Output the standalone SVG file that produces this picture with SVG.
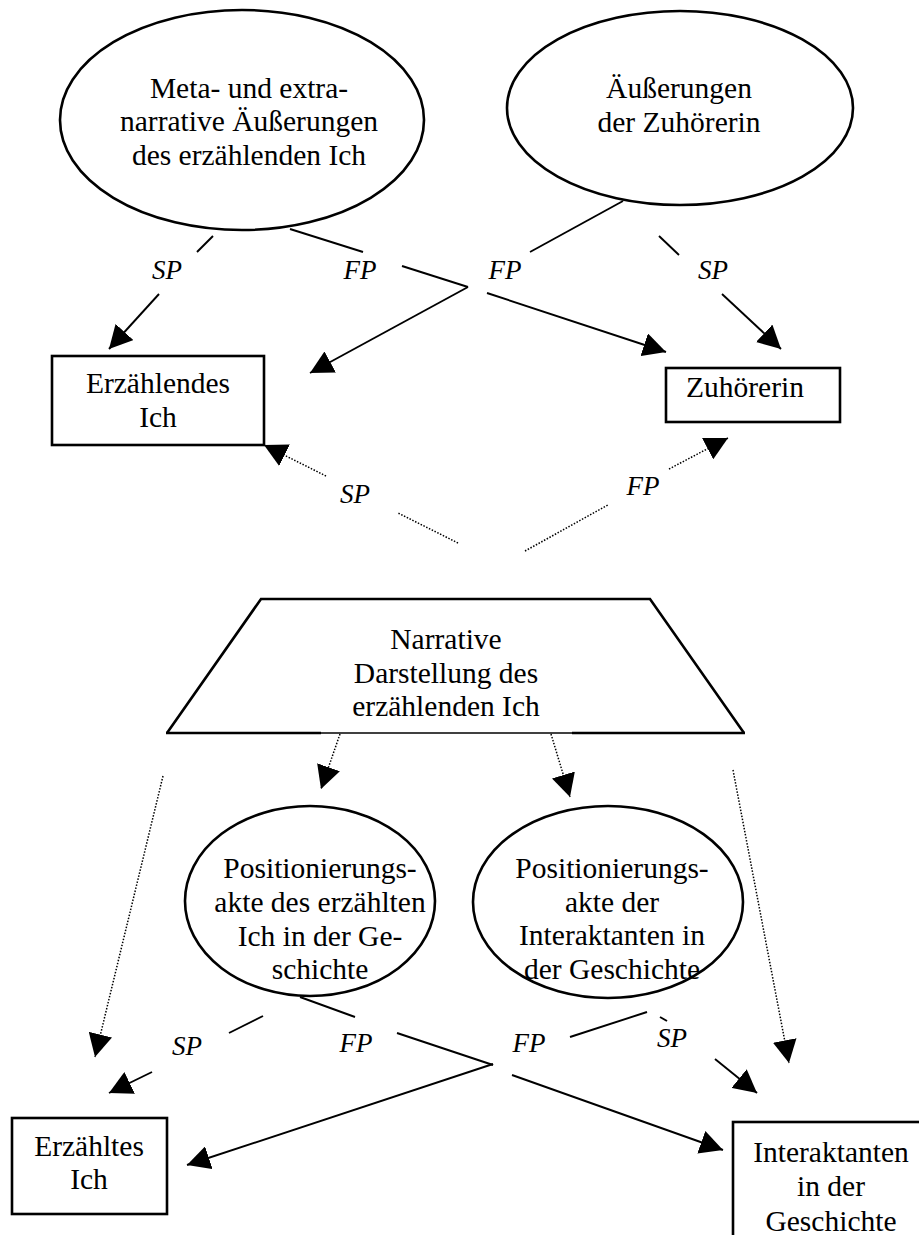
<svg xmlns="http://www.w3.org/2000/svg" width="919" height="1235" viewBox="0 0 919 1235">
<style>
  .shape { fill: #fff; stroke: #000; stroke-width: 2.6; }
  .t { font-family: "Liberation Serif", "Times New Roman", serif; font-size: 29.5px; fill: #000; text-anchor: middle; }
  .lbl { font-family: "Liberation Serif", "Times New Roman", serif; font-size: 27px; font-style: italic; fill: #000; text-anchor: middle; }
  .solid { stroke: #000; stroke-width: 1.9; fill: none; }
  .dot { stroke: #000; stroke-width: 1.5; fill: none; stroke-dasharray: 1.5 1.6; }
</style>
<defs>
  <marker id="arr" markerUnits="userSpaceOnUse" markerWidth="24" markerHeight="24" refX="23" refY="12" orient="auto">
    <path d="M0,0 L23,12 L0,24 z" fill="#000"/>
  </marker>
</defs>
<rect width="919" height="1235" fill="#fff"/>

<g id="connectors">
  <line class="solid" x1="213" y1="236" x2="197" y2="252"/>
  <line class="solid" x1="159" y1="294" x2="109" y2="349" marker-end="url(#arr)"/>
  <line class="solid" x1="290" y1="229" x2="363" y2="252"/>
  <line class="solid" x1="402" y1="266" x2="468" y2="287"/>
  <line class="solid" x1="487" y1="293" x2="666" y2="352" marker-end="url(#arr)"/>
  <line class="solid" x1="623" y1="201" x2="530" y2="252"/>
  <line class="solid" x1="468" y1="287" x2="310" y2="373" marker-end="url(#arr)"/>
  <line class="solid" x1="659" y1="236" x2="679" y2="255"/>
  <line class="solid" x1="722" y1="294" x2="781" y2="349" marker-end="url(#arr)"/>
  <line class="dot" x1="458" y1="543" x2="398" y2="513"/>
  <line class="dot" x1="326" y1="476" x2="264" y2="445" marker-end="url(#arr)"/>
  <line class="dot" x1="525" y1="551" x2="608" y2="505"/>
  <line class="dot" x1="669" y1="469" x2="728" y2="438" marker-end="url(#arr)"/>
  <line class="dot" x1="340" y1="734" x2="321" y2="789" marker-end="url(#arr)"/>
  <line class="dot" x1="551" y1="734" x2="570" y2="797" marker-end="url(#arr)"/>
  <line class="dot" x1="163" y1="776" x2="95" y2="1057" marker-end="url(#arr)"/>
  <line class="dot" x1="733" y1="770" x2="789" y2="1063" marker-end="url(#arr)"/>
  <line class="solid" x1="263" y1="1016" x2="229" y2="1033"/>
  <line class="solid" x1="152" y1="1072" x2="109" y2="1093" marker-end="url(#arr)"/>
  <line class="solid" x1="300" y1="997" x2="355" y2="1017"/>
  <line class="solid" x1="397" y1="1033" x2="493" y2="1065"/>
  <line class="solid" x1="512" y1="1075" x2="723" y2="1150" marker-end="url(#arr)"/>
  <line class="solid" x1="647" y1="1012" x2="570" y2="1037"/>
  <line class="solid" x1="493" y1="1064" x2="187" y2="1165" marker-end="url(#arr)"/>
  <line class="solid" x1="660" y1="1017" x2="667" y2="1021"/>
  <line class="solid" x1="715" y1="1059" x2="757" y2="1093" marker-end="url(#arr)"/>
  <text class="lbl" x="167" y="279">SP</text>
  <text class="lbl" x="360" y="279">FP</text>
  <text class="lbl" x="505" y="279">FP</text>
  <text class="lbl" x="713" y="279">SP</text>
  <text class="lbl" x="355" y="503">SP</text>
  <text class="lbl" x="643" y="495">FP</text>
  <text class="lbl" x="187" y="1055">SP</text>
  <text class="lbl" x="356" y="1052">FP</text>
  <text class="lbl" x="529" y="1052">FP</text>
  <text class="lbl" x="672" y="1047">SP</text>
</g>

<g id="meta-ellipse">
  <ellipse class="shape" cx="242" cy="120" rx="182" ry="110"/>
  <text class="t" x="249" y="98">Meta- und extra-</text>
  <text class="t" x="249" y="131">narrative Äußerungen</text>
  <text class="t" x="249" y="165">des erzählenden Ich</text>
</g>

<g id="zuhoererin-ellipse">
  <ellipse class="shape" cx="680" cy="108" rx="173" ry="97"/>
  <text class="t" x="679" y="98">Äußerungen</text>
  <text class="t" x="679" y="132">der Zuhörerin</text>
</g>

<g id="erzaehlendes-ich">
  <rect class="shape" x="52" y="356" width="212" height="89" stroke-width="2.8"/>
  <text class="t" x="158" y="393">Erzählendes</text>
  <text class="t" x="158" y="427">Ich</text>
</g>

<g id="zuhoererin">
  <rect class="shape" x="666" y="368" width="174" height="54" stroke-width="2.8"/>
  <text class="t" x="745" y="397">Zuhörerin</text>
</g>

<g id="narrative-darstellung">
  <path d="M167,733 L261,599 L650,599 L744,733" fill="#fff" stroke="#000" stroke-width="2.6"/>
  <line x1="166" y1="733" x2="321" y2="733" stroke="#000" stroke-width="2.6"/>
  <line x1="321" y1="733" x2="572" y2="733" stroke="#000" stroke-width="1.4"/>
  <line x1="572" y1="733" x2="745" y2="733" stroke="#000" stroke-width="2.6"/>
  <text class="t" x="446" y="649">Narrative</text>
  <text class="t" x="446" y="683">Darstellung des</text>
  <text class="t" x="446" y="716">erzählenden Ich</text>
</g>

<g id="positionierung-ich">
  <ellipse class="shape" cx="310" cy="901" rx="125" ry="95"/>
  <text class="t" x="320" y="878">Positionierungs-</text>
  <text class="t" x="320" y="912">akte des erzählten</text>
  <text class="t" x="320" y="946">Ich in der Ge-</text>
  <text class="t" x="320" y="979">schichte</text>
</g>

<g id="positionierung-interaktanten">
  <ellipse class="shape" cx="608" cy="902" rx="135" ry="96"/>
  <text class="t" x="612" y="878">Positionierungs-</text>
  <text class="t" x="612" y="912">akte der</text>
  <text class="t" x="612" y="945">Interaktanten in</text>
  <text class="t" x="612" y="979">der Geschichte</text>
</g>

<g id="erzaehltes-ich">
  <rect class="shape" x="12" y="1118" width="155" height="96" stroke-width="2.8"/>
  <text class="t" x="89" y="1156">Erzähltes</text>
  <text class="t" x="89" y="1189">Ich</text>
</g>

<g id="interaktanten">
  <rect class="shape" x="733" y="1122" width="200" height="130" stroke-width="2.8"/>
  <text class="t" x="831" y="1162">Interaktanten</text>
  <text class="t" x="831" y="1196">in der</text>
  <text class="t" x="831" y="1231">Geschichte</text>
</g>
</svg>
